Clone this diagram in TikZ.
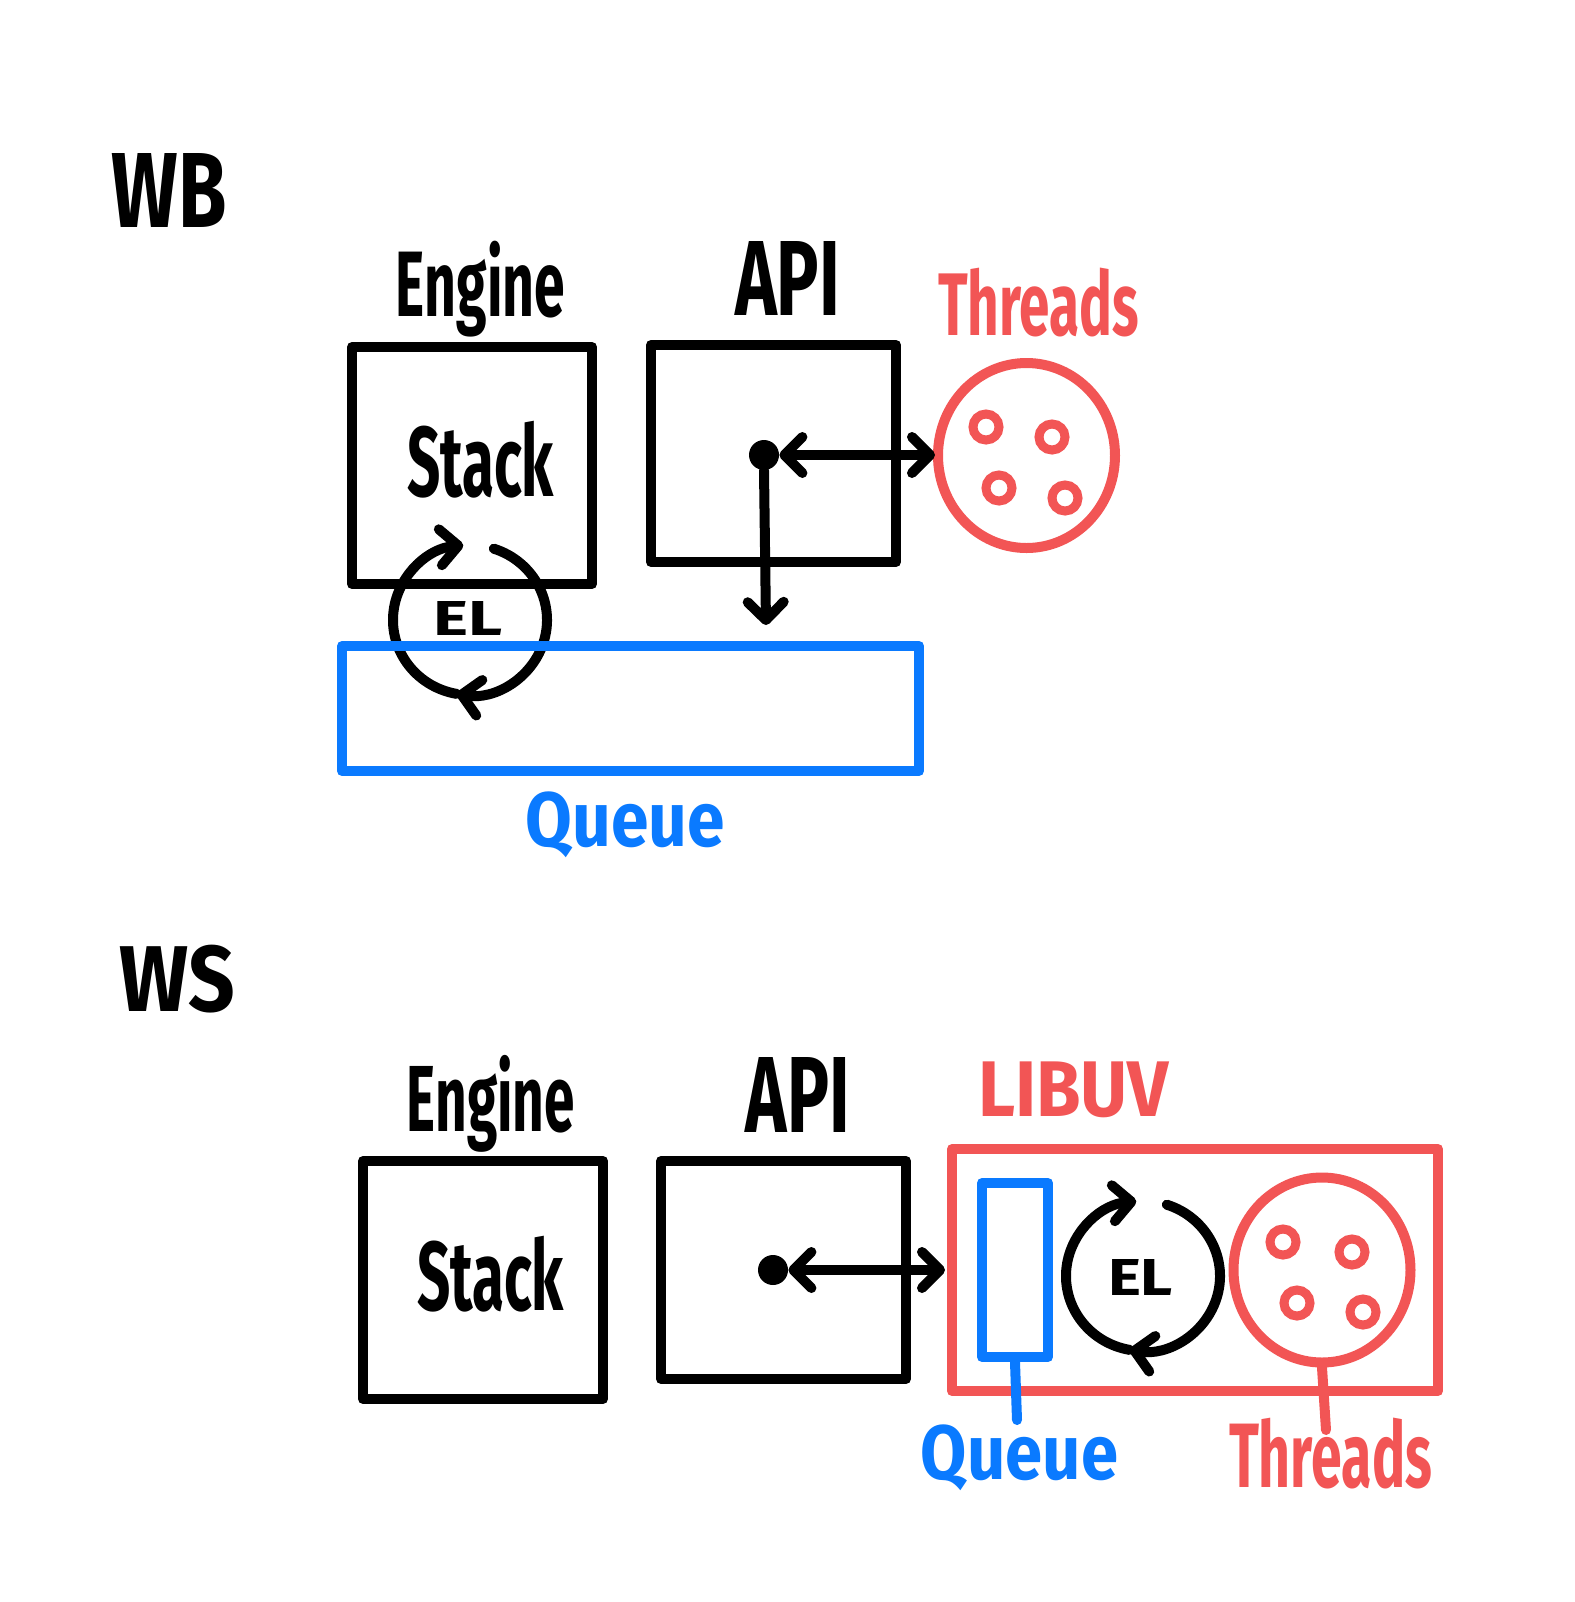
\documentclass[tikz,border=0pt]{standalone}
\usepackage{fontspec}
\setmainfont{Fira Sans}
\usetikzlibrary{arrows.meta,shapes.geometric}
\definecolor{hred}{RGB}{242,85,85}
\definecolor{hblue}{RGB}{10,122,255}
\newcommand{\hw}[3]{\resizebox*{#1}{#2}{\bfseries #3}}
\begin{document}
\begin{tikzpicture}[x=0.5pt,y=-0.5pt,
  ink/.style={line width=5pt,line cap=round,line join=round},
  box/.style={ink,draw,rectangle,inner sep=0pt},
  lbl/.style={inner sep=0pt},
  dotnode/.style={circle,fill=black,inner sep=0pt,minimum size=15pt},
  thr/.style={ellipse,draw=hred,ink,inner sep=0pt,minimum width=88.5pt,minimum height=92.5pt},
  small/.style={hred,line width=4.5pt},
  >={Straight Barb[length=9pt,width=18pt,round]}]
\useasboundingbox (0,0) rectangle (1575,1602);

% ===== WB =====
\node[lbl] (wb) at (169.5,190) {\hw{57.5pt}{37pt}{WB}};
\node[lbl] (engA) at (480.5,289) {\hw{84.5pt}{48pt}{Engine}};
\node[lbl] (apiAl) at (787.5,278) {\hw{52.5pt}{37pt}{API}};
\node[lbl,text=hred] (thrAl) at (1038.5,302.5) {\hw{100.5pt}{34.5pt}{Threads}};

\node[box,minimum width=120pt,minimum height=118.5pt] (stackA) at (472,465.5) {};
\node[lbl] (stackAl) at (480.5,459.5) {\hw{73.5pt}{38.5pt}{Stack}};
\node[box,minimum width=122.5pt,minimum height=108.5pt] (apiA) at (773.5,453.5) {};

\node[thr] (thrA) at (1026.5,455.5) {};
\draw[small] (986,427) circle[radius=6.5pt];
\draw[small] (1052,437) circle[radius=6.5pt];
\draw[small] (999,488) circle[radius=6.5pt];
\draw[small] (1065,498) circle[radius=6.5pt];

\node[dotnode] (dotA) at (764,455) {};
\coordinate (rA) at (935,455);
\coordinate (dnA) at (766,625);
\draw[ink,<->] (dotA) -- (rA);
\draw[ink,->] (dotA.south) -- (dnA);

% event loop (top)
\coordinate (elA) at (470,620);
\draw[ink,->] (elA) ++(72:38.5pt and 37.5pt) arc[start angle=72,end angle=-100,x radius=38.5pt,y radius=37.5pt];
\draw[ink,->] (elA) ++(-100:38.5pt and 37.5pt) arc[start angle=-100,end angle=-265,x radius=38.5pt,y radius=37.5pt];
\node[lbl] (elAl) at (468.5,618) {\hw{34.5pt}{17pt}{EL}};

\node[box,draw=hblue,minimum width=288.5pt,minimum height=62.5pt] (queueA) at (630.5,708.5) {};
\node[lbl,text=hblue] (queueAl) at (625.5,825) {\hw{99.5pt}{33pt}{Queue}};

% ===== WS =====
\node[lbl] (ws) at (177.5,979) {\hw{57.5pt}{34pt}{WS}};
\node[lbl] (engB) at (491,1103.5) {\hw{84pt}{48.5pt}{Engine}};
\node[lbl] (apiBl) at (798,1094.5) {\hw{52pt}{37.5pt}{API}};
\node[lbl,text=hred] (libuv) at (1073.5,1090) {\hw{95.5pt}{28pt}{LIBUV}};

\node[box,minimum width=120pt,minimum height=119pt] (stackB) at (483,1280) {};
\node[lbl] (stackBl) at (490.5,1274) {\hw{73.5pt}{38pt}{Stack}};
\node[box,minimum width=122.5pt,minimum height=109pt] (apiB) at (783.5,1270) {};

\node[box,draw=hred,minimum width=243pt,minimum height=121pt] (libB) at (1195,1270) {};
\node[box,draw=hblue,minimum width=33pt,minimum height=87pt] (queueB) at (1015,1270) {};
\coordinate (qEnd) at (1017,1420);
\draw[ink,hblue] (queueB.south) -- (qEnd);
\node[lbl,text=hblue] (queueBl) at (1019.5,1458) {\hw{98.5pt}{33pt}{Queue}};

\node[thr] (thrB) at (1322,1270) {};
\draw[small] (1283,1242) circle[radius=6.5pt];
\draw[small] (1352,1252) circle[radius=6.5pt];
\draw[small] (1297,1303) circle[radius=6.5pt];
\draw[small] (1363,1312) circle[radius=6.5pt];
\coordinate (tEnd) at (1326,1430);
\draw[ink,hred] (thrB.south) -- (tEnd);
\node[lbl,text=hred] (thrBl) at (1330.5,1453.5) {\hw{101.5pt}{35.5pt}{Threads}};

\node[dotnode] (dotB) at (773,1270) {};
\coordinate (rB) at (945,1270);
\draw[ink,<->] (dotB) -- (rB);

% event loop (bottom)
\coordinate (elB) at (1143,1276);
\draw[ink,->] (elB) ++(72:38.5pt and 37.5pt) arc[start angle=72,end angle=-100,x radius=38.5pt,y radius=37.5pt];
\draw[ink,->] (elB) ++(-100:38.5pt and 37.5pt) arc[start angle=-100,end angle=-265,x radius=38.5pt,y radius=37.5pt];
\node[lbl] (elBl) at (1140.5,1277) {\hw{32.5pt}{18pt}{EL}};
\end{tikzpicture}
\end{document}
